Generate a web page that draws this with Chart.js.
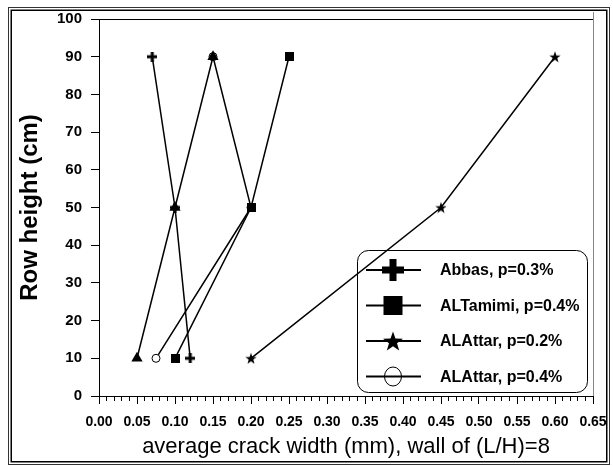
<!DOCTYPE html>
<html>
<head>
<meta charset="utf-8">
<script src="https://cdn.jsdelivr.net/npm/chart.js@4/dist/chart.umd.min.js"></script>
<style>
  html, body { margin: 0; padding: 0; background: #fff; }
  #wrap { width: 613px; height: 466px; }
</style>
</head>
<body>
<div id="wrap"><canvas id="chart" width="613" height="466"></canvas></div>
<script>
// Row heights (cm) measured along the wall
const rowHeights = [90, 50, 10];
// Average crack width (mm) at each row height
const abbas03    = [0.07, 0.10, 0.12];
const alTamimi04 = [0.25, 0.20, 0.10];
const alAttar02  = [0.60, 0.45, 0.20];
const alAttar04  = [0.15, 0.20, 0.075];
const triangleSeries = [0.15, 0.10, 0.05];

const seriesLabels = ['Abbas, p=0.3%', 'ALTamimi, p=0.4%', 'ALAttar, p=0.2%', 'ALAttar, p=0.4%'];
const xTitle = 'average crack width (mm), wall of (L/H)=8';
const yTitle = 'Row height (cm)';
const xRange = [0, 0.65];
const yRange = [0, 100];

const SANS = "'Liberation Sans', Arial, Helvetica, sans-serif";

function pairs(xs) { return xs.map((x, i) => ({ x: x, y: rowHeights[i] })); }

// Marker images
function plusImage(size, thick) {
  const c = document.createElement('canvas');
  c.width = size; c.height = size;
  const g = c.getContext('2d');
  g.fillStyle = '#000';
  const o = (size - thick) / 2;
  g.fillRect(o, 0, thick, size);
  g.fillRect(0, o, size, thick);
  return c;
}
function squareImage(size) {
  const c = document.createElement('canvas');
  c.width = size; c.height = size;
  const g = c.getContext('2d');
  g.fillStyle = '#000';
  g.fillRect(0, 0, size, size);
  return c;
}
function starPath(g, cx, cy, rOut, rIn) {
  g.beginPath();
  for (let i = 0; i < 10; i++) {
    const r = i % 2 === 0 ? rOut : rIn;
    const a = -Math.PI / 2 + i * Math.PI / 5;
    const px = cx + r * Math.cos(a), py = cy + r * Math.sin(a);
    if (i === 0) g.moveTo(px, py); else g.lineTo(px, py);
  }
  g.closePath();
}
function starImage(size) {
  const c = document.createElement('canvas');
  c.width = size; c.height = size;
  const g = c.getContext('2d');
  g.fillStyle = '#000';
  starPath(g, size / 2, size / 2 + size * 0.05, size / 2, size * 0.2);
  g.fill();
  return c;
}

const plusPt = plusImage(10, 3);
const squarePt = squareImage(9);
const starPt = starImage(12);

const lineBase = { showLine: true, borderColor: '#000', borderWidth: 1.5, backgroundColor: '#000', pointBorderColor: '#000', tension: 0 };

const datasets = [
  Object.assign({}, lineBase, { label: seriesLabels[0], data: pairs(abbas03), pointStyle: plusPt, order: 2, legendMarker: 'plus' }),
  Object.assign({}, lineBase, { label: seriesLabels[1], data: pairs(alTamimi04), pointStyle: squarePt, order: 3, legendMarker: 'square' }),
  Object.assign({}, lineBase, { label: seriesLabels[2], data: pairs(alAttar02), pointStyle: starPt, order: 4, legendMarker: 'star' }),
  Object.assign({}, lineBase, { label: seriesLabels[3], data: pairs(alAttar04), pointStyle: 'circle', pointRadius: 4, pointBackgroundColor: '#fff', pointBorderWidth: 1, order: 5, legendMarker: 'circle' }),
  Object.assign({}, lineBase, { label: '', data: pairs(triangleSeries), pointStyle: 'triangle', pointRadius: 5, pointBackgroundColor: '#000', order: 1 })
];

// Page frame, plot border lines
const framePlugin = {
  id: 'frame',
  beforeDraw(chart) {
    const g = chart.ctx;
    g.save();
    g.fillStyle = '#fff';
    g.fillRect(0, 0, chart.width, chart.height);
    g.restore();
  },
  afterDraw(chart) {
    const g = chart.ctx;
    const a = chart.chartArea;
    g.save();
    g.strokeStyle = '#333';
    g.lineWidth = 1;
    g.strokeRect(8.5, 7.5, 601, 457);
    g.strokeStyle = '#000';
    g.lineWidth = 1.5;
    g.strokeRect(11.25, 10.25, 595.5, 451.5);
    // top border of the plot
    g.lineWidth = 1;
    g.strokeStyle = '#000';
    g.beginPath();
    g.moveTo(a.left, Math.round(a.top) + 0.5);
    g.lineTo(a.right + 1, Math.round(a.top) + 0.5);
    g.stroke();
    // right edge of the plot
    g.strokeStyle = '#888';
    g.beginPath();
    g.moveTo(Math.round(a.right) + 0.5, 12);
    g.lineTo(Math.round(a.right) + 0.5, a.bottom);
    g.stroke();
    g.restore();
  }
};

// Legend drawn inside the plot area
const legendPlugin = {
  id: 'boxLegend',
  afterDraw(chart) {
    const g = chart.ctx;
    const box = { x: 357.5, y: 250.5, w: 230, h: 142, r: 11 };
    g.save();
    g.strokeStyle = '#000';
    g.lineWidth = 1;
    g.beginPath();
    g.roundRect(box.x, box.y, box.w, box.h, box.r);
    g.stroke();
    const items = chart.data.datasets.filter(d => d.legendMarker);
    const y0 = 270, dy = 35.5;
    items.forEach((d, i) => {
      const y = y0 + i * dy;
      const cx = 393;
      g.strokeStyle = '#000';
      g.lineWidth = 2;
      g.beginPath();
      g.moveTo(366, y);
      g.lineTo(421, y);
      g.stroke();
      g.fillStyle = '#000';
      if (d.legendMarker === 'plus') {
        g.drawImage(plusImage(22, 7), cx - 11, y - 11);
      } else if (d.legendMarker === 'square') {
        g.fillRect(cx - 9.5, y - 9.5, 19, 19);
      } else if (d.legendMarker === 'star') {
        starPath(g, cx, y + 1, 10.5, 4.2);
        g.fill();
      } else if (d.legendMarker === 'circle') {
        g.lineWidth = 1;
        g.beginPath();
        g.ellipse(cx, y, 8.5, 9.5, 0, 0, Math.PI * 2);
        g.stroke();
      }
      g.fillStyle = '#000';
      g.font = 'bold 16px ' + SANS;
      g.textAlign = 'left';
      g.textBaseline = 'middle';
      g.fillText(d.label, 440, y + 1);
    });
    g.restore();
  }
};

new Chart(document.getElementById('chart'), {
  type: 'scatter',
  data: { datasets: datasets },
  options: {
    responsive: false,
    animation: false,
    devicePixelRatio: 1,
    layout: { padding: { top: 19, right: 20, left: 0, bottom: 0 } },
    plugins: { legend: { display: false }, tooltip: { enabled: false } },
    scales: {
      // labelled axis; its own tick marks are transparent and only set the label offset
      x: {
        type: 'linear', position: 'bottom', min: xRange[0], max: xRange[1],
        ticks: { stepSize: 0.05, autoSkip: false, maxRotation: 0, padding: 0, color: '#000',
                 font: { family: SANS, weight: 'bold', size: 14 },
                 callback: v => v.toFixed(2) },
        grid: { drawOnChartArea: false, drawTicks: true, tickLength: 18, tickColor: 'rgba(0,0,0,0)' },
        border: { color: '#000', width: 1 },
        title: { display: true, text: xTitle, color: '#000', font: { family: SANS, size: 22 }, padding: { top: 0, bottom: 6 } },
        afterFit(s) { s.height = 70; }
      },
      // major tick marks every 0.05
      xMajor: {
        type: 'linear', position: { y: 0 }, min: xRange[0], max: xRange[1],
        ticks: { stepSize: 0.05, display: false },
        grid: { drawOnChartArea: false, drawTicks: true, tickLength: 8, color: '#000' },
        border: { display: false }
      },
      // minor tick marks every 0.01
      xMinor: {
        type: 'linear', position: { y: 0 }, min: xRange[0], max: xRange[1],
        ticks: { stepSize: 0.01, display: false },
        grid: { drawOnChartArea: false, drawTicks: true, tickLength: 5, color: '#000' },
        border: { display: false }
      },
      y: {
        type: 'linear', position: 'left', min: yRange[0], max: yRange[1],
        ticks: { stepSize: 10, padding: 9, color: '#000', font: { family: SANS, weight: 'bold', size: 15 } },
        grid: { drawOnChartArea: false, drawTicks: true, tickLength: 8, color: '#000' },
        border: { color: '#000', width: 1 },
        title: { display: true, text: yTitle, color: '#000', font: { family: SANS, weight: 'bold', size: 24 }, padding: { top: 16, bottom: 0 } },
        afterFit(s) { s.width = 99; }
      }
    }
  },
  plugins: [framePlugin, legendPlugin]
});
</script>
</body>
</html>
